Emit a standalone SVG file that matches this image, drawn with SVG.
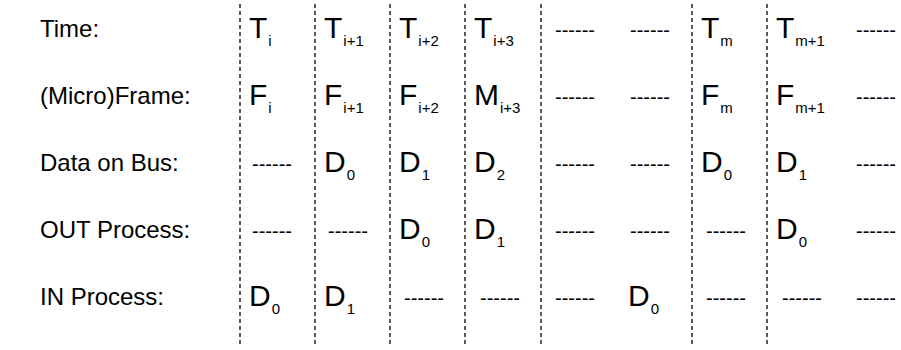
<svg xmlns="http://www.w3.org/2000/svg" width="901" height="350" viewBox="0 0 901 350">
<style>
text{font-family:"Liberation Sans",Arial,sans-serif;fill:#000}
.lab{font-size:24px}
.big{font-size:30px}
.sub{font-size:15px}
.dash{font-size:20px}
.vl{stroke:#000;stroke-width:1.3;stroke-dasharray:4,3;fill:none}
</style>
<rect width="901" height="350" fill="#fff"/>
<g id="connectors">
<line class="vl" x1="240" y1="4" x2="240" y2="346"/>
<line class="vl" x1="315" y1="4" x2="315" y2="346"/>
<line class="vl" x1="390" y1="4" x2="390" y2="346"/>
<line class="vl" x1="465" y1="4" x2="465" y2="346"/>
<line class="vl" x1="541" y1="4" x2="541" y2="346"/>
<line class="vl" x1="692" y1="4" x2="692" y2="346"/>
<line class="vl" x1="767" y1="4" x2="767" y2="346"/>
</g>
<g id="labels">
<text class="lab" x="40" y="37">Time:</text>
<text class="lab" x="40" y="104">(Micro)Frame:</text>
<text class="lab" x="40" y="171">Data on Bus:</text>
<text class="lab" x="40" y="238">OUT Process:</text>
<text class="lab" x="40" y="305">IN Process:</text>
</g>
<g id="row-time">
<text class="big" x="249" y="38">T<tspan class="sub" dx="1" dy="8">i</tspan></text>
<text class="big" x="324" y="38">T<tspan class="sub" dx="1" dy="8">i+1</tspan></text>
<text class="big" x="399" y="38">T<tspan class="sub" dx="1" dy="8">i+2</tspan></text>
<text class="big" x="474" y="38">T<tspan class="sub" dx="1" dy="8">i+3</tspan></text>
<text class="dash" x="555" y="37">------</text>
<text class="dash" x="630" y="37">------</text>
<text class="big" x="701" y="38">T<tspan class="sub" dx="1" dy="8">m</tspan></text>
<text class="big" x="776" y="38">T<tspan class="sub" dx="1" dy="8">m+1</tspan></text>
<text class="dash" x="856" y="37">------</text>
</g>
<g id="row-frame">
<text class="big" x="249" y="105">F<tspan class="sub" dx="1" dy="8">i</tspan></text>
<text class="big" x="324" y="105">F<tspan class="sub" dx="1" dy="8">i+1</tspan></text>
<text class="big" x="399" y="105">F<tspan class="sub" dx="1" dy="8">i+2</tspan></text>
<text class="big" x="474" y="105">M<tspan class="sub" dx="1" dy="8">i+3</tspan></text>
<text class="dash" x="555" y="104">------</text>
<text class="dash" x="630" y="104">------</text>
<text class="big" x="701" y="105">F<tspan class="sub" dx="1" dy="8">m</tspan></text>
<text class="big" x="776" y="105">F<tspan class="sub" dx="1" dy="8">m+1</tspan></text>
<text class="dash" x="856" y="104">------</text>
</g>
<g id="row-bus">
<text class="dash" x="252" y="171">------</text>
<text class="big" x="324" y="172">D<tspan class="sub" dx="1" dy="8">0</tspan></text>
<text class="big" x="399" y="172">D<tspan class="sub" dx="1" dy="8">1</tspan></text>
<text class="big" x="474" y="172">D<tspan class="sub" dx="1" dy="8">2</tspan></text>
<text class="dash" x="555" y="171">------</text>
<text class="dash" x="630" y="171">------</text>
<text class="big" x="701" y="172">D<tspan class="sub" dx="1" dy="8">0</tspan></text>
<text class="big" x="776" y="172">D<tspan class="sub" dx="1" dy="8">1</tspan></text>
<text class="dash" x="856" y="171">------</text>
</g>
<g id="row-out">
<text class="dash" x="252" y="238">------</text>
<text class="dash" x="328" y="238">------</text>
<text class="big" x="399" y="239">D<tspan class="sub" dx="1" dy="8">0</tspan></text>
<text class="big" x="474" y="239">D<tspan class="sub" dx="1" dy="8">1</tspan></text>
<text class="dash" x="555" y="238">------</text>
<text class="dash" x="630" y="238">------</text>
<text class="dash" x="706" y="238">------</text>
<text class="big" x="776" y="239">D<tspan class="sub" dx="1" dy="8">0</tspan></text>
<text class="dash" x="856" y="238">------</text>
</g>
<g id="row-in">
<text class="big" x="249" y="306">D<tspan class="sub" dx="1" dy="8">0</tspan></text>
<text class="big" x="324" y="306">D<tspan class="sub" dx="1" dy="8">1</tspan></text>
<text class="dash" x="404" y="305">------</text>
<text class="dash" x="480" y="305">------</text>
<text class="dash" x="555" y="305">------</text>
<text class="big" x="628" y="306">D<tspan class="sub" dx="1" dy="8">0</tspan></text>
<text class="dash" x="706" y="305">------</text>
<text class="dash" x="782" y="305">------</text>
<text class="dash" x="856" y="305">------</text>
</g>
</svg>
